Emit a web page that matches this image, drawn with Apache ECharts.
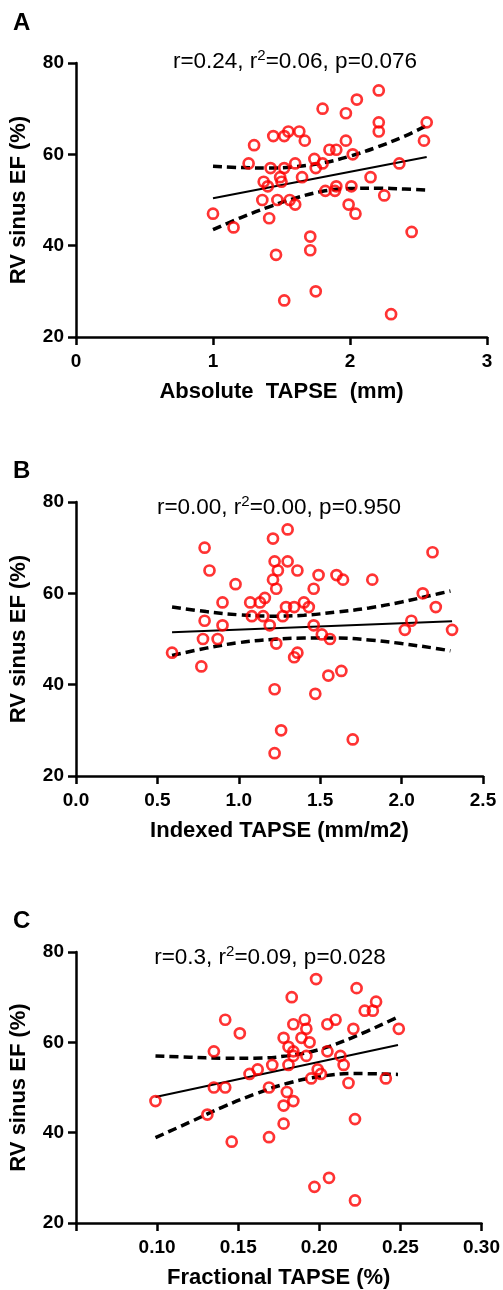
<!DOCTYPE html>
<html lang="en">
<head>
<meta charset="UTF-8">
<script src="https://cdn.jsdelivr.net/npm/echarts@6/dist/echarts.min.js"></script>
<style>
  html, body { margin: 0; padding: 0; background: #fff; }
  #chart { width: 503px; height: 1290px; }
</style>
</head>
<body>
<div id="chart"></div>
<script>
// panel A - absolute TAPSE
var aX = [2.21,2.05,1.80,1.97,2.21,2.56,2.21,1.55,1.63,1.44,1.52,1.67,1.97,2.54,1.30,1.85,1.90,2.02,1.74,1.26,1.60,1.80,2.36,1.42,1.52,1.75,1.65,2.15,1.49,1.37,1.50,1.40,1.90,2.01,1.82,1.89,2.25,1.36,1.47,1.56,1.60,1.99,1.00,2.04,1.41,1.15,2.45,1.71,1.71,1.46,1.75,1.52,2.30];
var aY = [74,72,70,69,67,67,65,65,65,64,64,63,63,63,62,61,61,60,59,58,58,58,58,57,57,57,55,55,55,54,54,53,53,53,52,52,51,50,50,50,49,49,47,47,46,44,43,42,39,38,30,28,25];
var aFitX = [1.0, 2.56];
var aFitY = [50.4, 59.4];
var aBandX = [1.0, 1.2, 1.4, 1.6, 1.8, 2.0, 2.2, 2.4, 2.56];
var aUpper = [57.4, 57.1, 57.0, 57.3, 58.1, 59.6, 61.6, 64.0, 66.3];
var aLower = [43.5, 46.1, 48.4, 50.4, 51.9, 52.5, 52.6, 52.4, 52.2];

// panel B - indexed TAPSE
var bX = [1.30,1.21,0.79,2.19,1.22,1.30,0.82,1.24,1.36,1.60,1.49,1.64,1.82,1.21,0.98,1.23,1.46,2.13,0.90,1.07,1.13,1.16,1.40,1.34,1.43,1.29,2.21,1.08,1.15,1.27,0.79,2.06,0.90,1.19,1.46,2.31,2.02,1.51,0.78,0.87,1.56,1.23,0.59,1.36,1.34,0.77,1.63,1.55,1.22,1.47,1.26,1.70,1.22];
var bY = [74,72,70,69,67,67,65,65,65,64,64,63,63,63,62,61,61,60,58,58,58,59,58,57,57,57,57,55,55,55,54,54,53,53,53,52,52,51,50,50,50,49,47,47,46,44,43,42,39,38,30,28,25];
var bFitX = [0.59, 2.31];
var bFitY = [51.5, 53.9];
var bBandX = [0.59, 0.8, 1.0, 1.2, 1.4, 1.6, 1.8, 2.0, 2.2, 2.3];
var bUpper = [57.0, 56.0, 55.3, 55.0, 55.2, 55.9, 56.8, 58.1, 59.7, 60.5];
var bLower = [46.4, 48.0, 49.2, 49.9, 50.2, 50.2, 49.8, 49.0, 48.0, 47.4];

// panel C - fractional TAPSE
var cX = [0.198,0.223,0.183,0.235,0.228,0.233,0.142,0.191,0.210,0.184,0.205,0.192,0.221,0.249,0.151,0.178,0.189,0.194,0.181,0.135,0.184,0.205,0.192,0.184,0.213,0.171,0.181,0.215,0.162,0.199,0.157,0.201,0.195,0.241,0.218,0.135,0.142,0.169,0.180,0.099,0.184,0.178,0.131,0.222,0.178,0.169,0.146,0.206,0.197,0.222];
var cY = [74,72,70,69,67,67,65,65,65,64,64,63,63,63,62,61,61,60,59,58,58,58,57,57,57,55,55,55,54,54,53,53,52,52,51,50,50,50,49,47,47,46,44,43,42,39,38,30,28,25];
var cFitX = [0.099, 0.2485];
var cFitY = [47.9, 59.4];
var cBandX = [0.099, 0.12, 0.14, 0.16, 0.18, 0.20, 0.22, 0.2485];
var cUpper = [57.0, 56.7, 56.5, 56.5, 57.0, 58.4, 61.0, 65.6];
var cLower = [38.9, 42.3, 45.6, 48.5, 50.9, 52.4, 53.1, 52.9];

var yTicks = [20, 40, 60, 80];
var xNames = ['Absolute  TAPSE  (mm)', 'Indexed TAPSE (mm/m2)', 'Fractional TAPSE (%)'];
var stats = ['r=0.24, r{sup|2}=0.06, p=0.076', 'r=0.00, r{sup|2}=0.00, p=0.950', 'r=0.3, r{sup|2}=0.09, p=0.028'];
var letters = ['A', 'B', 'C'];

function zip(xs, ys) {
  return xs.map(function (x, i) { return [x, ys[i]]; });
}

var panels = [
  { left: 76, right: 16, top: 63, xmin: 0, xmax: 3, step: 1, dec: 0, hideMin: false,
    x: aX, y: aY, fx: aFitX, fy: aFitY, bx: aBandX, up: aUpper, lo: aLower, statX: 295, statY: 62, letterY: 24 },
  { left: 73, right: 20, top: 502, xmin: 0, xmax: 2.5, step: 0.5, dec: 1, hideMin: false,
    x: bX, y: bY, fx: bFitX, fy: bFitY, bx: bBandX, up: bUpper, lo: bLower, statX: 279, statY: 508, letterY: 472 },
  { left: 70, right: 21, top: 952, xmin: 0.05, xmax: 0.30, step: 0.05, dec: 2, hideMin: true,
    x: cX, y: cY, fx: cFitX, fy: cFitY, bx: cBandX, up: cUpper, lo: cLower, statX: 270, statY: 958, letterY: 922 }
];

var grids = [], xAxes = [], yAxes = [], series = [], graphics = [];
var axisLine = { show: true, onZero: false, lineStyle: { color: '#000', width: 2.5 } };
var axisTick = { show: true, inside: false, length: 8, lineStyle: { color: '#000', width: 2.5 } };

panels.forEach(function (p, i) {
  grids.push({ left: p.left, right: p.right, top: p.top, height: 274 });
  xAxes.push({
    gridIndex: i, type: 'value', min: p.xmin, max: p.xmax, interval: p.step,
    axisLine: axisLine, axisTick: axisTick, splitLine: { show: false },
    axisLabel: {
      margin: 15, color: '#000', fontSize: 19, fontWeight: 'bold', fontFamily: 'Liberation Sans',
      formatter: function (v) {
        if (p.hideMin && Math.abs(v - p.xmin) < 1e-9) return '';
        return v.toFixed(p.dec);
      }
    },
    name: xNames[i], nameLocation: 'middle', nameGap: 44,
    nameTextStyle: { color: '#000', fontSize: 22, fontWeight: 'bold', fontFamily: 'Liberation Sans' }
  });
  yAxes.push({
    gridIndex: i, type: 'value', min: yTicks[0], max: yTicks[yTicks.length - 1], interval: 20,
    axisLine: axisLine, axisTick: axisTick, splitLine: { show: false },
    axisLabel: { margin: 12, color: '#000', fontSize: 19, fontWeight: 'bold', fontFamily: 'Liberation Sans' },
    name: 'RV sinus EF (%)', nameLocation: 'middle', nameGap: 46,
    nameTextStyle: { color: '#000', fontSize: 22, fontWeight: 'bold', fontFamily: 'Liberation Sans' }
  });

  // confidence bands
  [p.up, p.lo].forEach(function (band) {
    series.push({
      type: 'line', xAxisIndex: i, yAxisIndex: i, data: zip(p.bx, band),
      smooth: 0.4, showSymbol: false, silent: true, z: 3,
      lineStyle: { color: '#000', width: 3.5, type: [9, 5] }
    });
  });
  // fit line
  series.push({
    type: 'line', xAxisIndex: i, yAxisIndex: i, data: zip(p.fx, p.fy),
    showSymbol: false, silent: true, z: 3,
    lineStyle: { color: '#000', width: 2 }
  });
  // points
  series.push({
    type: 'scatter', xAxisIndex: i, yAxisIndex: i, data: zip(p.x, p.y),
    symbol: 'circle', symbolSize: 10, z: 4,
    itemStyle: { color: 'rgba(255,255,255,0)', borderColor: '#ff0000', borderWidth: 2.7 }
  });

  graphics.push({
    type: 'text', left: 13, top: p.letterY - 13,
    style: { text: letters[i], fontSize: 24, fontWeight: 'bold', fontFamily: 'Liberation Sans', fill: '#000' }
  });
  graphics.push({
    type: 'text', x: p.statX, y: p.statY,
    style: {
      text: stats[i], align: 'center', verticalAlign: 'middle',
      fontSize: 22.5, fontFamily: 'Liberation Sans', fill: '#000',
      rich: { sup: { fontSize: 15, padding: [0, 0, 12, 0], fontFamily: 'Liberation Sans', fill: '#000' } }
    }
  });
});

var myChart = echarts.init(document.getElementById('chart'), null, { renderer: 'canvas' });
myChart.setOption({
  animation: false,
  backgroundColor: '#fff',
  grid: grids,
  xAxis: xAxes,
  yAxis: yAxes,
  series: series,
  graphic: graphics
});
</script>
</body>
</html>
